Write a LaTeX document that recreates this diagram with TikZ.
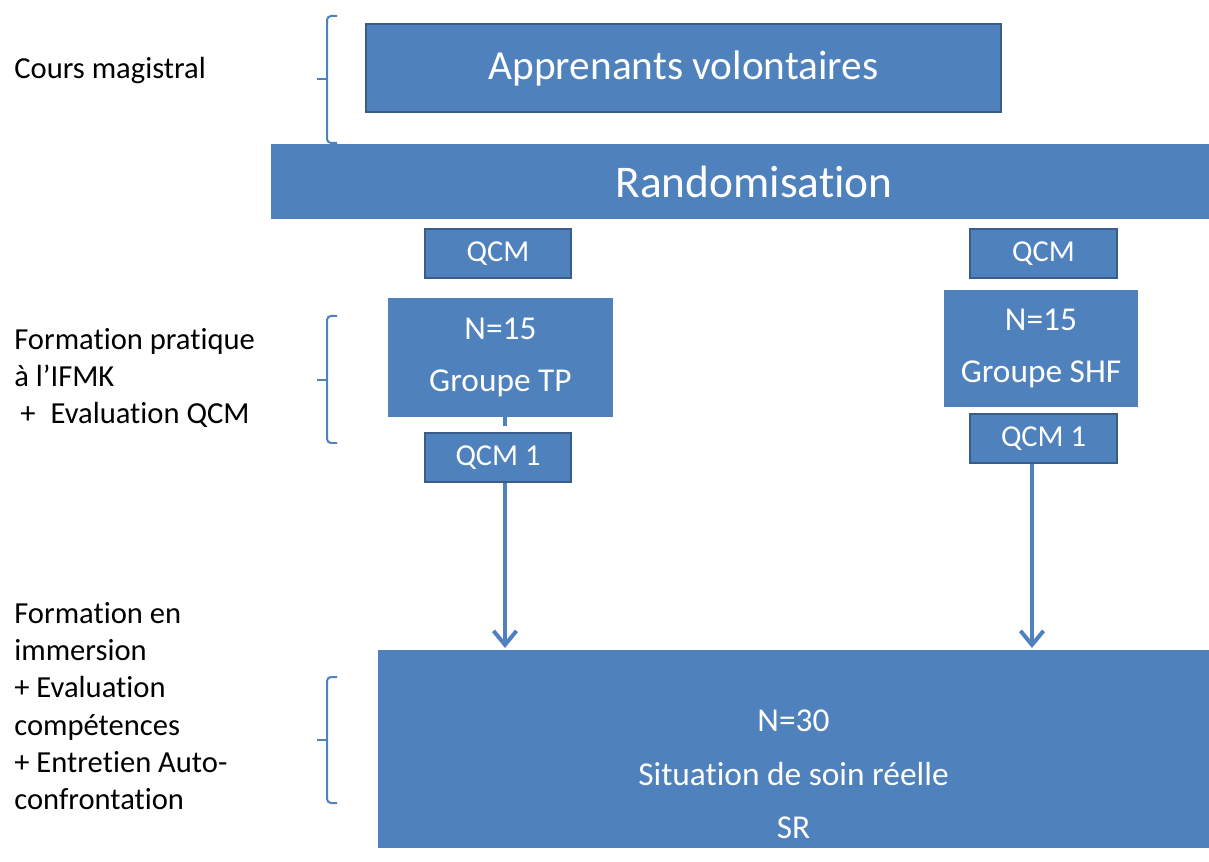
\documentclass[tikz,border=0pt]{standalone}
\usepackage{fontspec}
\setmainfont{Carlito}[Ligatures=NoCommon]
\usetikzlibrary{arrows.meta}
\definecolor{boxblue}{HTML}{4F81BD}
\definecolor{edgeblue}{HTML}{385D8A}
\begin{document}
\begin{tikzpicture}[
    bluebox/.style={rectangle, fill=boxblue, text=white, inner sep=0pt, align=center},
    edgebox/.style={bluebox, draw=edgeblue, line width=0.04cm},
    sidetext/.style={anchor=west, align=left, inner sep=0pt, font=\fontsize{17.4}{21.2}\selectfont},
    bracket/.style={draw=boxblue, line width=0.04cm, rounded corners=0.08cm},
    flow/.style={draw=boxblue, line width=0.08cm, -{Straight Barb[length=0.28cm, width=0.46cm, line width=0.08cm]}}
  ]
            \useasboundingbox (0,0) rectangle (24.18,17.22);
            
            % Drawing box Apprenants volontaires
            \node [edgebox, minimum width=12.70cm, minimum height=1.76cm, font=\fontsize{23.5}{28}\selectfont] (appr) at (13.67,15.86) {Apprenants volontaires};%
            
            % Drawing bar Randomisation
            \node [bluebox, minimum width=18.76cm, minimum height=1.50cm] (rand) at (14.80,13.59) {};%
            \node [inner sep=0pt, text=white, font=\fontsize{25.8}{31}\selectfont] (randtext) at (15.08,13.59) {Randomisation};%
            
            % Drawing boxes QCM before the groups
            \node [edgebox, minimum width=2.92cm, minimum height=0.98cm, font=\fontsize{17.3}{21}\selectfont] (qcmA) at (9.96,12.15) {QCM};%
            \node [edgebox, minimum width=2.94cm, minimum height=0.98cm, font=\fontsize{17.3}{21}\selectfont] (qcmB) at (20.87,12.15) {QCM};%
            
            % Drawing groups TP and SHF
            \node [bluebox, minimum width=4.50cm, minimum height=2.38cm, font=\fontsize{19}{30}\selectfont] (tp) at (10.01,10.07) {N=15\\Groupe TP};%
            \node [bluebox, minimum width=3.88cm, minimum height=2.34cm, font=\fontsize{19}{30}\selectfont] (shf) at (20.82,10.25) {N=15\\Groupe SHF};%
            
            % Drawing segment from group TP down to QCM 1
            \coordinate (tpout) at (10.10,8.88);%
            \coordinate (tpin) at (10.10,8.70);%
            \draw [draw=boxblue, line width=0.08cm] (tpout) -- (tpin);%
            
            % Drawing boxes QCM 1 after the groups
            \node [edgebox, minimum width=2.92cm, minimum height=0.98cm, font=\fontsize{17.3}{21}\selectfont] (qcmC) at (9.96,8.07) {QCM 1};%
            \node [edgebox, minimum width=2.94cm, minimum height=0.98cm, font=\fontsize{17.3}{21}\selectfont] (qcmD) at (20.87,8.45) {QCM 1};%
            
            % Drawing box Situation de soin reelle
            \node [bluebox, minimum width=16.62cm, minimum height=3.96cm] (sr) at (15.87,2.24) {};%
            \node [inner sep=0pt, text=white, align=center, font=\fontsize{19}{30.4}\selectfont] (srtext) at (15.87,1.73) {N=30\\Situation de soin r\'eelle\\SR};%
            
            % Drawing arrows to the common situation
            \coordinate (leftend) at (10.10,4.26);%
            \coordinate (rightend) at (20.64,4.26);%
            \draw [flow] (qcmC.south -| leftend) -- (leftend);%
            \draw [flow] (qcmD.south -| rightend) -- (rightend);%
            
            % Drawing brackets on the left
            \draw [bracket] (6.74,16.90) -- (6.54,16.90) -- (6.54,14.36) -- (6.74,14.36);%
            \draw [bracket] (6.34,15.64) -- (6.54,15.64);%
            \draw [bracket] (6.74,10.90) -- (6.54,10.90) -- (6.54,8.36) -- (6.74,8.36);%
            \draw [bracket] (6.34,9.62) -- (6.54,9.62);%
            \draw [bracket] (6.74,3.68) -- (6.54,3.68) -- (6.54,1.16) -- (6.74,1.16);%
            \draw [bracket] (6.34,2.42) -- (6.54,2.42);%
            
            % Writing phase labels
            \node [sidetext] (cours) at (0.28,15.80) {Cours magistral};%
            \node [sidetext] (pratique) at (0.28,9.66) {Formation pratique\\[0pt]\`a l'IFMK\\\hspace*{0.12cm}+\hspace{0.3cm}Evaluation QCM};%
            \node [sidetext] (immersion) at (0.28,3.10) {Formation en\\immersion\\+ Evaluation\\comp\'etences\\+ Entretien Auto-\\confrontation};%
        \end{tikzpicture}
\end{document}
